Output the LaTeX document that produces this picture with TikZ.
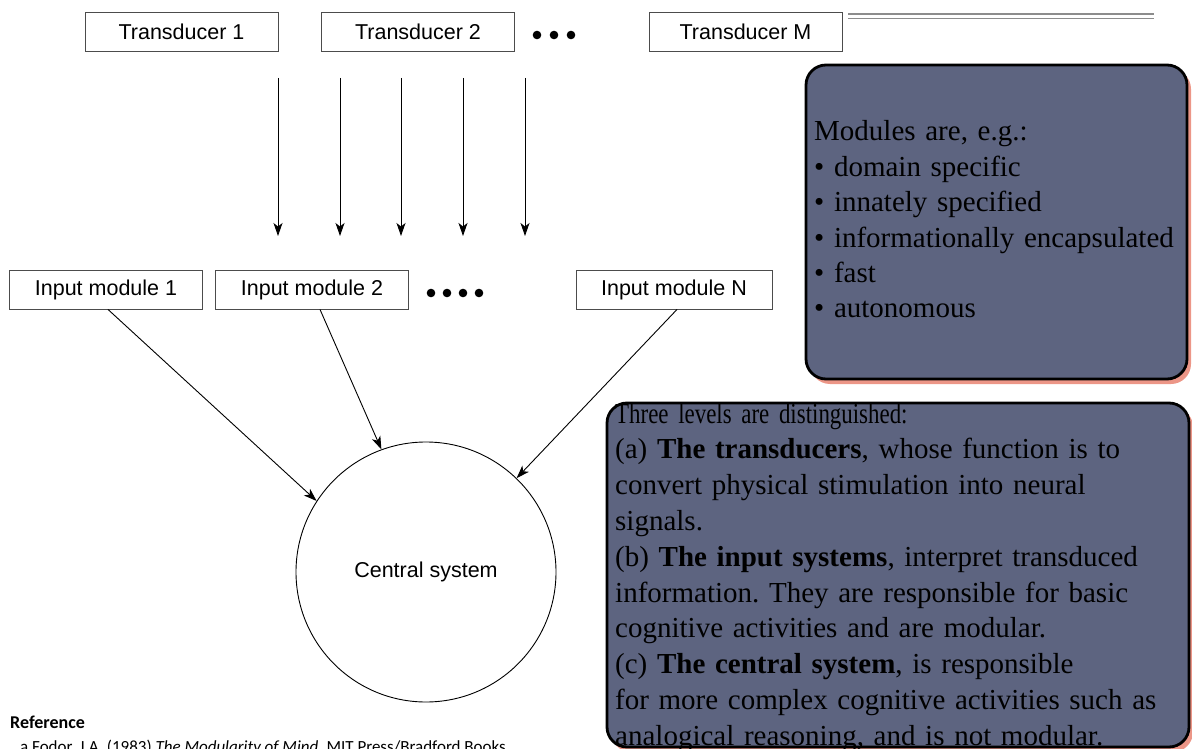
\documentclass[tikz,border=0pt]{standalone}
\usepackage{fontspec}
\setmainfont{Liberation Serif}
\newfontfamily\arialf{Liberation Sans}
\newfontfamily\timesf{Liberation Serif}
\newfontfamily\timesc[FakeStretch=0.79]{Liberation Serif}
\newfontfamily\refsf{Carlito}
\usetikzlibrary{arrows.meta}
\definecolor{boxfill}{RGB}{93,100,128}
\definecolor{shadowc}{RGB}{236,150,135}
\frenchspacing
\begin{document}
\begin{tikzpicture}[x=1pt,y=-1pt,
  smallbox/.style={draw=black!70, line width=0.9pt, minimum width=193pt, minimum height=39pt, inner sep=0pt, font=\arialf\fontsize{21.5}{24}\selectfont},
  arr/.style={-{Stealth[length=13pt,width=9pt,inset=3.5pt]}, line width=0.9pt},
  bigbox/.style={draw=black, line width=2.8pt, fill=boxfill, rounded corners=20pt},
  shadowbox/.style={fill=shadowc, rounded corners=20pt},
  boxtext/.style={anchor=base west, inner sep=0pt, align=left},
  dotc/.style={fill=black}
]
\useasboundingbox (0,0) rectangle (1192,749);
\clip (0,0) rectangle (1192,749);

% transducers
\node[smallbox] (t1) at (181.5,31.5) {Transducer 1};
\node[smallbox] (t2) at (418,31.5) {Transducer 2};
\node[smallbox] (tm) at (745.5,31.5) {Transducer M};
\fill[dotc] (537,35) circle (4.3pt);
\fill[dotc] (554,35) circle (4.3pt);
\fill[dotc] (571,35) circle (4.3pt);

% double rule
\coordinate (dl1) at (848,16.3);
\coordinate (dl2) at (1154,16.3);
\draw[black!45, line width=1.2pt, double=white, double distance=3.2pt] (dl1) -- (dl2);

% vertical arrows
\foreach \x [count=\i] in {278,340,401,463,525} {
  \coordinate (va\i) at (\x,78);
  \coordinate (vb\i) at (\x,236);
  \draw[arr] (va\i) -- (vb\i);
}

% input modules
\node[smallbox] (i1) at (106,289.5) {Input module 1};
\node[smallbox] (i2) at (312,289.5) {Input module 2};
\node[smallbox, minimum width=196pt] (iN) at (674,289.5) {Input module N};
\fill[dotc] (431,293) circle (4.3pt);
\fill[dotc] (447,293) circle (4.3pt);
\fill[dotc] (463,293) circle (4.3pt);
\fill[dotc] (479,293) circle (4.3pt);

% central system
\node[circle, draw, line width=0.9pt, minimum size=260pt, inner sep=0pt, font=\arialf\fontsize{21.5}{24}\selectfont] (cs) at (426,572) {Central system};
\draw[arr] ([xshift=2pt]i1.south) -- (cs.147.8);
\draw[arr] ([xshift=8pt]i2.south) -- (cs.110.4);
\draw[arr] ([xshift=3pt]iN.south) -- (cs.46.2);

% box 1
\fill[shadowbox] (810,69) rectangle (1191,384);
\draw[bigbox] (806,65) rectangle (1187,379);
\node[boxtext, text width=370pt, font=\timesf\fontsize{29}{35.4}\selectfont] (mtext) at (814,141) {Modules are, e.g.:\\
• domain specific\\
• innately specified\\
• informationally encapsulated\\
• fast\\
• autonomous};

% box 2
\fill[shadowbox] (611,407) rectangle (1193,752);
\draw[bigbox] (607,403) rectangle (1189,747);
\node[boxtext, text width=575pt, font=\timesf\fontsize{29}{35.8}\selectfont] (ltext) at (615,423) {{\timesc Three levels are distinguished:}\\
(a) \textbf{The transducers}, whose function is to\\
convert physical stimulation into neural\\
signals.\\
(b) \textbf{The input systems}, interpret transduced\\
information. They are responsible for basic\\
cognitive activities and are modular.\\
(c) \textbf{The central system}, is responsible\\
for more complex cognitive activities such as\\
analogical reasoning, and is not modular.};

% reference
\node[anchor=base west, inner sep=0pt, font=\refsf\bfseries\fontsize{18}{20}\selectfont] (refh) at (10,728) {Reference};
\node[anchor=base west, inner sep=0pt, font=\refsf\fontsize{17}{20}\selectfont] (refa) at (20,752) {a Fodor, J.A. (1983) \textit{The Modularity of Mind}. MIT Press/Bradford Books};
\end{tikzpicture}
\end{document}
